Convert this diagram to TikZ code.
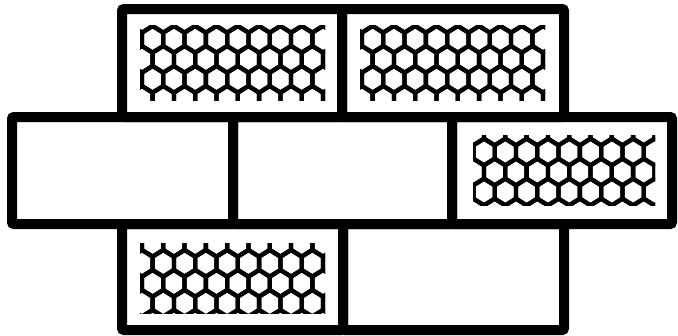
\documentclass[tikz,border=0pt]{standalone}
\tikzset{
  cell/.style={draw=black,line width=10pt,rounded corners=2pt,line join=miter},
  hexline/.style={draw=black,line width=4.3pt,line join=miter}
}
\newcommand\honeycomb[6]{%
  \begin{scope}
    \clip (#1,#2) rectangle (#3,#4);
    \foreach \i in {-1,...,10}{
      \foreach \j in {-1,...,5}{
        \pgfmathsetmacro\cx{#5+\i*21.3+mod(\j+2,2)*10.65}
        \pgfmathsetmacro\cy{#6+\j*20}
        \draw[hexline] (\cx,\cy-13.3) -- ++(10.65,6.65) -- ++(0,13.3) -- ++(-10.65,6.65) -- ++(-10.65,-6.65) -- ++(0,-13.3) -- cycle;
      }
    }
  \end{scope}}
\begin{document}
\begin{tikzpicture}[x=1pt,y=-1pt]
  \useasboundingbox (0,0) rectangle (678,335);
  % honeycomb fills
  \honeycomb{140}{25}{325}{100}{152.6}{39.3}
  \honeycomb{360}{25}{545}{100}{372.6}{39.3}
  \honeycomb{473}{135}{655}{205}{484}{152}
  \honeycomb{140}{243}{325}{313}{152.6}{243.3}
  % bricks
  \draw[cell] (122,9) rectangle (342,117);
  \draw[cell] (342,9) rectangle (564,117);
  \draw[cell] (12,117) rectangle (233,224);
  \draw[cell] (233,117) rectangle (452,224);
  \draw[cell] (452,117) rectangle (672,224);
  \draw[cell] (122,224) rectangle (343,330);
  \draw[cell] (343,224) rectangle (564,330);
\end{tikzpicture}
\end{document}
